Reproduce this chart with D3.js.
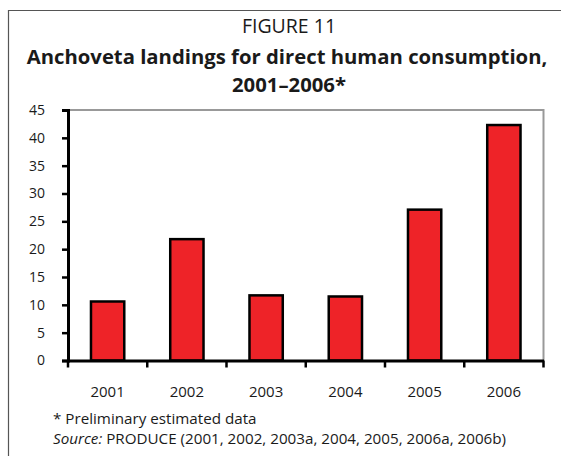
<!DOCTYPE html>
<html><head><meta charset="utf-8">
<script src="https://cdn.jsdelivr.net/npm/d3@7"></script>
<style>html,body{margin:0;padding:0;background:#fff;}svg{display:block;}</style>
</head><body>
<svg id="c" width="561" height="456"></svg>
<script>
const years = ["2001","2002","2003","2004","2005","2006"];
const values = [10.6, 21.8, 11.7, 11.5, 27.1, 42.3];
const yTicks = [0,5,10,15,20,25,30,35,40,45];
const titleLines = ["FIGURE 11","Anchoveta landings for direct human consumption,","2001–2006*"];
const footnote = "* Preliminary estimated data";

const font = "'Open Sans', 'Noto Sans', sans-serif";
const ink = "#1a1a1a";
const svg = d3.select("#c");
// frame
svg.append("path").attr("d","M8.5,456 V10.5 H561").attr("fill","none").attr("stroke","#555").attr("stroke-width",1.2);

svg.append("text").attr("x",289).attr("y",33).attr("text-anchor","middle")
  .attr("font-family",font).attr("font-size",19.5).attr("fill",ink).text(titleLines[0]);
svg.append("text").attr("x",287).attr("y",64).attr("text-anchor","middle")
  .attr("font-family",font).attr("font-size",20.3).attr("font-weight","bold").attr("fill",ink).text(titleLines[1]);
svg.append("text").attr("x",289).attr("y",92).attr("text-anchor","middle")
  .attr("font-family",font).attr("font-size",20.3).attr("font-weight","bold").attr("fill",ink).text(titleLines[2]);

const L=68, R=543.5, T=110, B=360.5;
const x = d3.scaleBand().domain(years).range([L,R]).paddingInner(0.58).paddingOuter(0.29);
const y = d3.scaleLinear().domain([0,45]).range([B,T]);

// plot area border (top, right)
svg.append("path").attr("d",`M${L},${T} H${R} V${B}`).attr("fill","none").attr("stroke","#999").attr("stroke-width",2);

svg.selectAll("rect.bar").data(values).join("rect").attr("class","bar")
  .attr("x",(d,i)=>x(years[i])).attr("width",x.bandwidth())
  .attr("y",d=>y(d)).attr("height",d=>B-y(d))
  .attr("fill","#ee2328").attr("stroke","#000").attr("stroke-width",2.5);

// y axis
const ya = svg.append("g").attr("transform",`translate(${L},0)`)
  .call(d3.axisLeft(y).tickValues(yTicks).tickSize(6).tickPadding(17));
ya.select(".domain").attr("stroke","#000").attr("stroke-width",3);
ya.selectAll(".tick line").attr("stroke","#000").attr("stroke-width",2.5);
ya.selectAll(".tick text").attr("font-family",font).attr("font-size",14).attr("fill",ink);

// x axis: baseline with ticks at band boundaries
const xa = svg.append("g").attr("transform",`translate(0,${B})`)
  .call(d3.axisBottom(x).tickSize(0).tickPadding(26).tickSizeOuter(0));
xa.select(".domain").attr("stroke","#000").attr("stroke-width",3);
xa.selectAll(".tick text").attr("font-family",font).attr("font-size",15).attr("fill",ink);
const bounds = d3.range(years.length+1).map(i=>L+i*(R-L)/years.length);
svg.append("g").selectAll("line").data(bounds).join("line")
  .attr("x1",d=>d).attr("x2",d=>d).attr("y1",B).attr("y2",B+7)
  .attr("stroke","#000").attr("stroke-width",2.5);

svg.append("text").attr("x",53).attr("y",424).attr("font-family",font).attr("font-size",15.2).attr("fill",ink).text(footnote);
const s = svg.append("text").attr("x",53).attr("y",444).attr("font-family",font).attr("font-size",15.2).attr("fill",ink);
s.append("tspan").attr("font-style","italic").text("Source:");
s.append("tspan").text(" PRODUCE (2001, 2002, 2003a, 2004, 2005, 2006a, 2006b)");
</script>
</body></html>
